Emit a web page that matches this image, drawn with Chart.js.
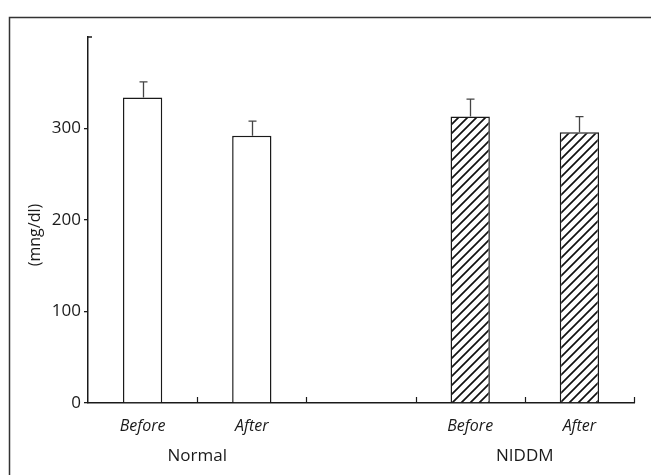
<!DOCTYPE html>
<html><head><meta charset="utf-8">
<script src="https://cdn.jsdelivr.net/npm/chart.js@4/dist/chart.umd.min.js"></script>
<style>html,body{margin:0;padding:0;background:#fff}#wrap{width:651px;height:475px}</style>
</head><body><div id="wrap"><canvas id="c" width="651" height="475"></canvas></div>
<script>
// ---- data ----
const categories = ['Before', 'After', '', 'Before', 'After'];
const groupLabels = ['Normal', 'NIDDM'];
const groupSpans = [[0, 1], [3, 4]];           // category indices each group label spans
const normalValues = [334, 292, null, null, null];
const normalErrors = [17, 16, null, null, null];
const niddmValues = [null, null, null, 313, 296];
const niddmErrors = [null, null, null, 19, 17];
const yTicks = [0, 100, 200, 300];
const yMax = 400;
const yTitle = '(mng/dl)';

const FONT = '"Open Sans", Lato, sans-serif';
const INK = '#1a1a1a';

function hatch() {
  const s = 9, c = document.createElement('canvas');
  c.width = c.height = s;
  const g = c.getContext('2d');
  g.fillStyle = '#fff'; g.fillRect(0, 0, s, s);
  g.strokeStyle = '#111'; g.lineWidth = 1.7; g.lineCap = 'square';
  g.beginPath();
  g.moveTo(0, s); g.lineTo(s, 0);
  g.moveTo(-s / 2, s / 2); g.lineTo(s / 2, -s / 2);
  g.moveTo(s / 2, s * 1.5); g.lineTo(s * 1.5, s / 2);
  g.stroke();
  return g.createPattern(c, 'repeat');
}

const decor = {
  id: 'decor',
  afterDatasetsDraw(chart) {
    const ctx = chart.ctx, x = chart.scales.x, y = chart.scales.y;
    ctx.save();
    // frame (cropped figure border)
    ctx.strokeStyle = '#333'; ctx.lineWidth = 1.5;
    ctx.beginPath(); ctx.moveTo(9.5, 475); ctx.lineTo(9.5, 17.5); ctx.lineTo(651, 17.5); ctx.stroke();
    // y-axis top stub
    ctx.strokeStyle = INK; ctx.lineWidth = 1.5;
    const yt = y.getPixelForValue(yMax);
    ctx.beginPath(); ctx.moveTo(x.left, yt); ctx.lineTo(x.left + 4, yt); ctx.stroke();
    // inward x ticks at category boundaries
    const n = categories.length;
    ctx.lineWidth = 1.2;
    for (let i = 0; i < n; i++) {
      const px = i < n - 1 ? (x.getPixelForValue(i) + x.getPixelForValue(i + 1)) / 2 : x.right;
      ctx.beginPath(); ctx.moveTo(Math.round(px) + 0.5, y.bottom); ctx.lineTo(Math.round(px) + 0.5, y.bottom - 6); ctx.stroke();
    }
    // error bars
    ctx.strokeStyle = '#444'; ctx.lineWidth = 1.3;
    [[0, normalValues, normalErrors], [1, niddmValues, niddmErrors]].forEach(([di, vals, errs]) => {
      const meta = chart.getDatasetMeta(di);
      vals.forEach((v, i) => {
        if (v == null || errs[i] == null) return;
        const cx = Math.round(meta.data[i].x) + 0.5;
        const y0 = y.getPixelForValue(v), y1 = y.getPixelForValue(v + errs[i]);
        ctx.beginPath(); ctx.moveTo(cx, y0); ctx.lineTo(cx, y1);
        ctx.moveTo(cx - 4, y1); ctx.lineTo(cx + 4, y1); ctx.stroke();
      });
    });
    // group labels
    ctx.fillStyle = INK; ctx.font = '17px ' + FONT;
    ctx.textAlign = 'center'; ctx.textBaseline = 'middle';
    groupLabels.forEach((lab, k) => {
      const [a, b] = groupSpans[k];
      ctx.fillText(lab, (x.getPixelForValue(a) + x.getPixelForValue(b)) / 2, 456);
    });
    // y title
    ctx.translate(35, 235); ctx.rotate(-Math.PI / 2);
    ctx.font = '16px ' + FONT;
    ctx.fillText(yTitle, 0, 0);
    ctx.restore();
  }
};

new Chart(document.getElementById('c'), {
  type: 'bar',
  data: {
    labels: categories,
    datasets: [
      { data: normalValues, backgroundColor: '#fff', borderColor: INK, borderWidth: 1.5, grouped: false },
      { data: niddmValues, backgroundColor: hatch(), borderColor: INK, borderWidth: 1.5, grouped: false }
    ]
  },
  options: {
    responsive: false, animation: false,
    layout: { padding: { left: 0, top: 37, right: 17, bottom: 0 } },
    plugins: { legend: { display: false }, tooltip: { enabled: false } },
    datasets: { bar: { barPercentage: 0.36, categoryPercentage: 1 } },
    scales: {
      x: {
        offset: true,
        grid: { display: false },
        border: { display: true, color: INK, width: 1.5 },
        ticks: { color: INK, font: { family: FONT, size: 16, style: 'italic' }, padding: 6, maxRotation: 0, autoSkip: false },
        afterFit(s) { s.height = 72; }
      },
      y: {
        min: 0, max: yMax,
        afterBuildTicks(s) { s.ticks = yTicks.concat([yMax]).map(v => ({ value: v })); },
        grid: { drawOnChartArea: false, drawTicks: true, tickLength: 4, lineWidth: 1.3,
                color: c => (c.tick && c.tick.value === yMax) ? 'rgba(0,0,0,0)' : INK },
        border: { display: true, color: INK, width: 1.5 },
        ticks: { color: INK, padding: 3, font: { family: FONT, size: 17 },
                 callback: v => (v === yMax ? '' : v) },
        afterFit(s) { s.width = 88; }
      }
    }
  },
  plugins: [decor]
});
</script></body></html>
